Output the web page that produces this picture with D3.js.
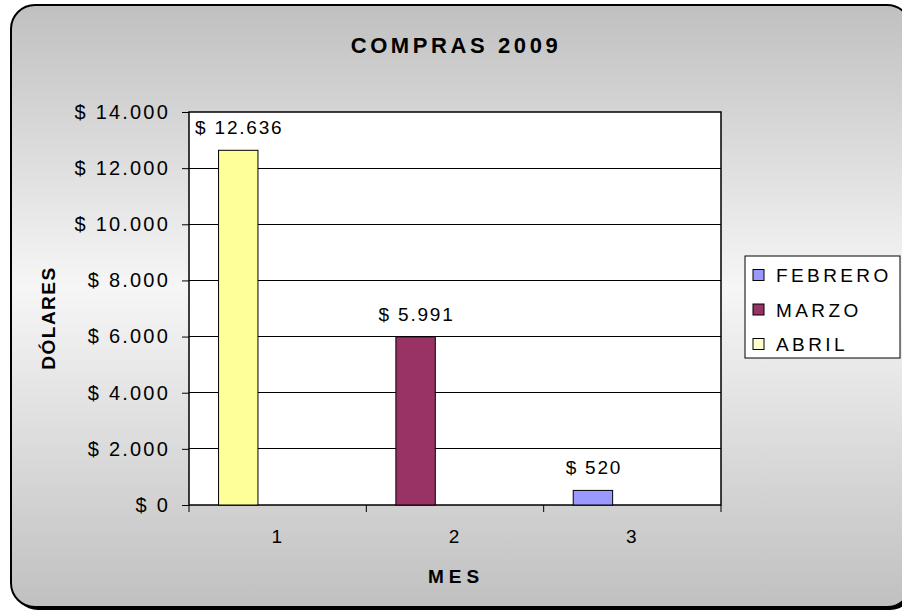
<!DOCTYPE html>
<html>
<head>
<meta charset="utf-8">
<script src="https://d3js.org/d3.v7.min.js"></script>
<style>
  html, body { margin: 0; padding: 0; background: #ffffff; }
  svg { display: block; font-family: "Liberation Sans", Arial, sans-serif; }
</style>
</head>
<body>
<svg id="chart" width="902" height="613"></svg>
<script>
// ---- data ----
const categories = ["1", "2", "3"];
const barValues = [12636, 5991, 520];
const barSeries = ["ABRIL", "MARZO", "FEBRERO"];
const barLabels = ["$ 12.636", "$ 5.991", "$ 520"];
const legendNames = ["FEBRERO", "MARZO", "ABRIL"];
const yTicks = [0, 2000, 4000, 6000, 8000, 10000, 12000, 14000];
const yTickLabels = ["$ 0", "$ 2.000", "$ 4.000", "$ 6.000", "$ 8.000", "$ 10.000", "$ 12.000", "$ 14.000"];
const seriesSlots = [0, 1, 2];

const barColor = { FEBRERO: "#9999FF", MARZO: "#993366", ABRIL: "#FFFF99" };
const legendColor = { FEBRERO: "#9999FF", MARZO: "#993366", ABRIL: "#FFFFCC" };

const FONT = "'Liberation Sans', Arial, sans-serif";
const svg = d3.select("#chart");

// background gradient
const defs = svg.append("defs");
const grad = defs.append("linearGradient").attr("id", "bg").attr("x1", 0).attr("y1", 0).attr("x2", 0).attr("y2", 1);
grad.append("stop").attr("offset", "0%").attr("stop-color", "#c0c0c0");
grad.append("stop").attr("offset", "47%").attr("stop-color", "#f6f6f6");
grad.append("stop").attr("offset", "100%").attr("stop-color", "#c0c0c0");

// frame shadow + frame
svg.append("rect").attr("x", 14).attr("y", 8).attr("width", 900).attr("height", 602)
  .attr("rx", 24).attr("fill", "#000");
svg.append("rect").attr("x", 11).attr("y", 5).attr("width", 900).attr("height", 602)
  .attr("rx", 24).attr("fill", "url(#bg)").attr("stroke", "#000").attr("stroke-width", 2);

// plot area
const plot = { left: 189, top: 112, right: 721, bottom: 505 };

const x = d3.scaleBand().domain(categories).range([plot.left, plot.right]).padding(0);
const xs = d3.scaleBand().domain(seriesSlots).range([0, x.bandwidth()]).paddingInner(0).paddingOuter(0.75);
const y = d3.scaleLinear().domain([0, 14000]).range([plot.bottom, plot.top]);

svg.append("rect").attr("x", plot.left).attr("y", plot.top)
  .attr("width", plot.right - plot.left).attr("height", plot.bottom - plot.top)
  .attr("fill", "#fff");

// gridlines
svg.append("g").selectAll("line").data(yTicks.filter(t => t > 0 && t < 14000)).join("line")
  .attr("x1", plot.left).attr("x2", plot.right)
  .attr("y1", d => y(d)).attr("y2", d => y(d))
  .attr("stroke", "#000").attr("stroke-width", 1).attr("shape-rendering", "crispEdges");

// plot border
svg.append("rect").attr("x", plot.left).attr("y", plot.top)
  .attr("width", plot.right - plot.left).attr("height", plot.bottom - plot.top)
  .attr("fill", "none").attr("stroke", "#000").attr("stroke-width", 1.5);

// bars
svg.append("g").selectAll("rect").data(barValues).join("rect")
  .attr("x", (d, i) => x(categories[i]) + xs(0))
  .attr("y", d => y(d))
  .attr("width", xs.bandwidth())
  .attr("height", d => y(0) - y(d))
  .attr("fill", (d, i) => barColor[barSeries[i]])
  .attr("stroke", "#000").attr("stroke-width", 1);

// bar value labels
svg.append("g").selectAll("text").data(barValues).join("text")
  .attr("x", (d, i) => x(categories[i]) + xs(0) + xs.bandwidth() / 2 + 1)
  .attr("y", d => y(d) - 16)
  .attr("text-anchor", "middle")
  .style("font-family", FONT).style("font-size", "19px").attr("letter-spacing", 1.8)
  .attr("fill", "#000")
  .text((d, i) => barLabels[i]);

// y axis
const yAxis = d3.axisLeft(y).tickValues(yTicks).tickSize(7).tickPadding(10)
  .tickFormat((d, i) => yTickLabels[i]);
const gy = svg.append("g").attr("transform", `translate(${plot.left},0)`).call(yAxis);
gy.select(".domain").remove();
gy.selectAll(".tick line").attr("stroke", "#000");
gy.selectAll(".tick text").style("font-family", FONT).style("font-size", "20px")
  .attr("letter-spacing", 2.2).attr("fill", "#000").attr("dx", -2);

// x axis
const xAxis = d3.axisBottom(x).tickSize(0).tickPadding(25);
const gx = svg.append("g").attr("transform", `translate(0,${plot.bottom})`).call(xAxis);
gx.select(".domain").remove();
gx.selectAll(".tick text").style("font-family", FONT).style("font-size", "19px").attr("fill", "#000").attr("dx", -1);
// category boundary ticks
svg.append("g").selectAll("line").data(categories.concat(["end"])).join("line")
  .attr("x1", (d, i) => i < categories.length ? x(d) : plot.right)
  .attr("x2", (d, i) => i < categories.length ? x(d) : plot.right)
  .attr("y1", plot.bottom).attr("y2", plot.bottom + 7)
  .attr("stroke", "#000").attr("stroke-width", 1);

// titles
svg.append("text").attr("x", 456).attr("y", 53).attr("text-anchor", "middle")
  .style("font-family", FONT).style("font-size", "22px").attr("font-weight", "bold").attr("letter-spacing", 3.6)
  .text("COMPRAS 2009");
svg.append("text").attr("x", 456).attr("y", 583).attr("text-anchor", "middle")
  .style("font-family", FONT).style("font-size", "19px").attr("font-weight", "bold").attr("letter-spacing", 5)
  .text("MES");
svg.append("text").attr("transform", "translate(55,318) rotate(-90)").attr("text-anchor", "middle")
  .style("font-family", FONT).style("font-size", "19px").attr("font-weight", "bold").attr("letter-spacing", 1.5)
  .text("DÓLARES");

// legend
const lg = svg.append("g");
lg.append("rect").attr("x", 745).attr("y", 256).attr("width", 155).attr("height", 102)
  .attr("fill", "#fff").attr("stroke", "#000").attr("stroke-width", 1);
const items = lg.selectAll("g.item").data(legendNames).join("g").attr("class", "item")
  .attr("transform", (d, i) => `translate(753,${275 + i * 34.5})`);
items.append("rect").attr("x", 0).attr("y", -5.5).attr("width", 11).attr("height", 11)
  .attr("fill", d => legendColor[d]).attr("stroke", "#000").attr("stroke-width", 1);
items.append("text").attr("x", 23).attr("y", 7).style("font-family", FONT).style("font-size", "19px")
  .attr("letter-spacing", 3.4).text(d => d);
</script>
</body>
</html>
